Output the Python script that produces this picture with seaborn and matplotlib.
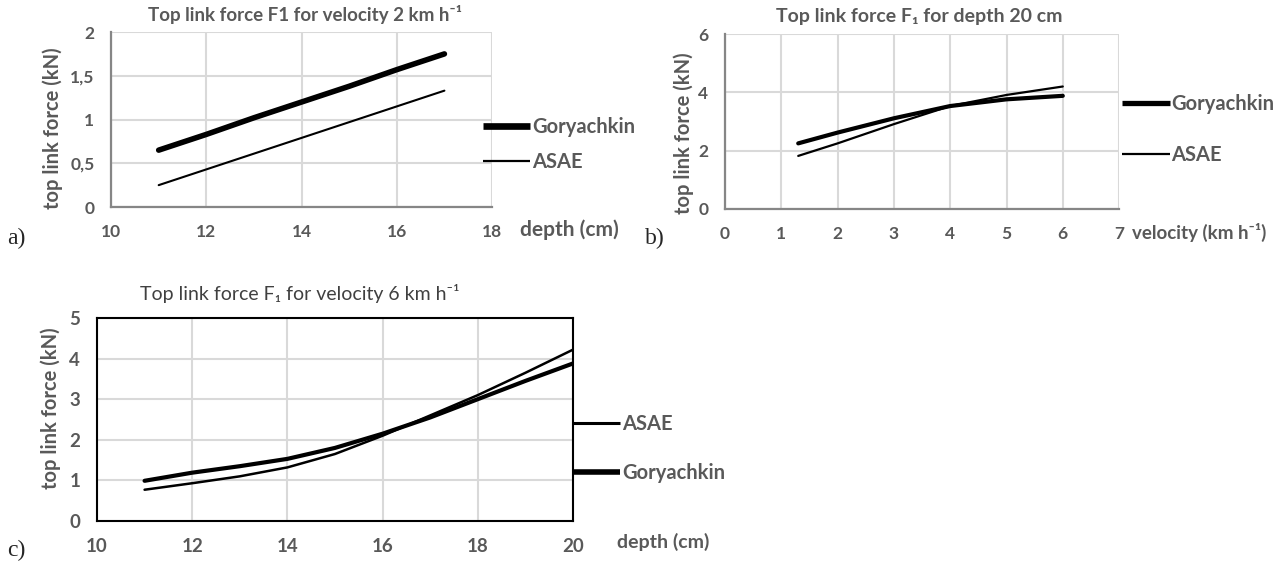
import numpy as np
import pandas as pd
import matplotlib
matplotlib.use("Agg")
import matplotlib.pyplot as plt
from matplotlib.ticker import FuncFormatter
import seaborn as sns

# --- dados ---
depth_a = [11, 12, 13, 14, 15, 16, 17]
gory_a = [0.65, 0.83, 1.02, 1.20, 1.38, 1.57, 1.75]
asae_a = [0.25, 0.43, 0.61, 0.79, 0.97, 1.15, 1.33]

vel_b = [1.3, 2, 3, 4, 5, 6]
gory_b = [2.25, 2.62, 3.11, 3.53, 3.76, 3.88]
asae_b = [1.82, 2.25, 2.91, 3.53, 3.91, 4.20]

depth_c = [11, 12, 13, 14, 15, 16, 17, 18, 19, 20]
gory_c = [0.99, 1.19, 1.35, 1.53, 1.80, 2.15, 2.55, 3.00, 3.45, 3.88]
asae_c = [0.77, 0.93, 1.10, 1.32, 1.65, 2.10, 2.60, 3.10, 3.65, 4.22]

CINZA = '#595959'
GRADE = '#d9d9d9'

sns.set_theme(style='white')
plt.rcParams['font.family'] = ['Lato', 'DejaVu Sans']

fig = plt.figure(figsize=(12.81, 5.63), dpi=100)

ax_a = fig.add_axes([0.0867, 0.6323, 0.2974, 0.3108])
ax_b = fig.add_axes([0.5660, 0.6288, 0.3076, 0.3108])
ax_c = fig.add_axes([0.0757, 0.0746, 0.3716, 0.3606])


def virgula(v, pos):
    return f"{v:g}".replace('.', ',')


def desenhar(ax, x, gory, asae, lw_g, lw_a, tam_tick):
    df = pd.DataFrame({'x': x, 'Goryachkin': gory, 'ASAE': asae})
    sns.lineplot(data=df, x='x', y='Goryachkin', ax=ax, color='black',
                 linewidth=lw_g, solid_capstyle='round', label='Goryachkin')
    sns.lineplot(data=df, x='x', y='ASAE', ax=ax, color='black',
                 linewidth=lw_a, solid_capstyle='round', label='ASAE')
    ax.grid(True, color=GRADE, linewidth=1.5)
    ax.set_axisbelow(True)
    ax.tick_params(length=0, pad=12, labelsize=tam_tick, labelcolor=CINZA)
    for lab in ax.get_xticklabels() + ax.get_yticklabels():
        lab.set_fontweight('bold')


def legenda(ax, ordem, bx, by, spacing, lw_g, lw_a):
    h = []
    for nome in ordem:
        linha = plt.Line2D([], [], color='black', solid_capstyle='butt',
                           linewidth=lw_g if nome == 'Goryachkin' else lw_a)
        h.append(linha)
    leg = ax.legend(h, ordem, loc='center left', bbox_to_anchor=(bx, by),
                    frameon=False, borderpad=0, borderaxespad=0,
                    handlelength=2.35, handletextpad=0.1,
                    labelspacing=spacing, fontsize=14.5)
    for t in leg.get_texts():
        t.set_color(CINZA)
        t.set_fontweight('bold')


# --- a) ---
desenhar(ax_a, depth_a, gory_a, asae_a, 4.0, 1.5, 12.5)
ax_a.set_xlim(10, 18)
ax_a.set_ylim(0, 2)
ax_a.set_xticks([10, 12, 14, 16, 18])
ax_a.set_yticks([0, 0.5, 1, 1.5, 2])
ax_a.yaxis.set_major_formatter(FuncFormatter(virgula))
for s in ['top', 'right']:
    ax_a.spines[s].set_visible(False)
for s in ['left', 'bottom']:
    ax_a.spines[s].set_color('#868686')
    ax_a.spines[s].set_linewidth(1.6)
ax_a.set_title('Top link force F1 for velocity 2 km h\u207b\u00b9', x=0.509, y=1.051,
               va='center', fontsize=13.5, fontweight='bold', color=CINZA)
ax_a.set_xlabel('depth (cm)', fontsize=15, fontweight='bold', color=CINZA, ha='left', va='center')
ax_a.xaxis.set_label_coords(1.074, -0.132)
ax_a.set_ylabel('top link force (kN)', fontsize=14.5, fontweight='bold', color=CINZA, va='center')
ax_a.yaxis.set_label_coords(-0.152, 0.451)
legenda(ax_a, ['Goryachkin', 'ASAE'], 0.976, 0.357, 0.75, 4.8, 1.6)

# --- b) ---
desenhar(ax_b, vel_b, gory_b, asae_b, 3.0, 1.6, 12.5)
ax_b.set_xlim(0, 7)
ax_b.set_ylim(0, 6)
ax_b.set_xticks(range(0, 8))
ax_b.set_yticks([0, 2, 4, 6])
for s in ['top', 'right']:
    ax_b.spines[s].set_visible(False)
for s in ['left', 'bottom']:
    ax_b.spines[s].set_color('#868686')
    ax_b.spines[s].set_linewidth(1.6)
ax_b.set_title('Top link force F\u2081 for depth 20 cm', x=0.492, y=1.051,
               va='center', fontsize=14, fontweight='bold', color=CINZA)
ax_b.set_xlabel('velocity (km h\u207b\u00b9)', fontsize=13.5, fontweight='bold', color=CINZA, ha='left', va='center')
ax_b.xaxis.set_label_coords(1.032, -0.137)
ax_b.set_ylabel('top link force (kN)', fontsize=14.5, fontweight='bold', color=CINZA, va='center')
ax_b.yaxis.set_label_coords(-0.104, 0.434)
legenda(ax_b, ['Goryachkin', 'ASAE'], 1.008, 0.454, 1.55, 3.8, 1.6)

# --- c) ---
desenhar(ax_c, depth_c, gory_c, asae_c, 3.0, 1.8, 13.5)
ax_c.set_xlim(10, 20)
ax_c.set_ylim(0, 5)
ax_c.set_xticks([10, 12, 14, 16, 18, 20])
ax_c.set_yticks([0, 1, 2, 3, 4, 5])
for s in ax_c.spines.values():
    s.set_color('black')
    s.set_linewidth(1.5)
ax_c.set_title('Top link force F\u2081 for velocity 6 km h\u207b\u00b9', x=0.426, y=1.079,
               va='center', fontsize=14, color='#404040')
ax_c.set_xlabel('depth (cm)', fontsize=14, fontweight='bold', color=CINZA, ha='left', va='center')
ax_c.xaxis.set_label_coords(1.092, -0.104)
ax_c.set_ylabel('top link force (kN)', fontsize=14.5, fontweight='bold', color=CINZA, va='center')
ax_c.yaxis.set_label_coords(-0.097, 0.554)
legenda(ax_c, ['ASAE', 'Goryachkin'], 1.0, 0.356, 1.45, 4.0, 2.2)

# rotulos dos paineis
fig.text(7 / 1281, 1 - 238 / 563, 'a)', family='Liberation Serif', fontsize=17, va='center')
fig.text(645 / 1281, 1 - 238 / 563, 'b)', family='Liberation Serif', fontsize=17, va='center')
fig.text(7 / 1281, 1 - 550 / 563, 'c)', family='Liberation Serif', fontsize=17, va='center')

fig.savefig('out.png', dpi=100)
